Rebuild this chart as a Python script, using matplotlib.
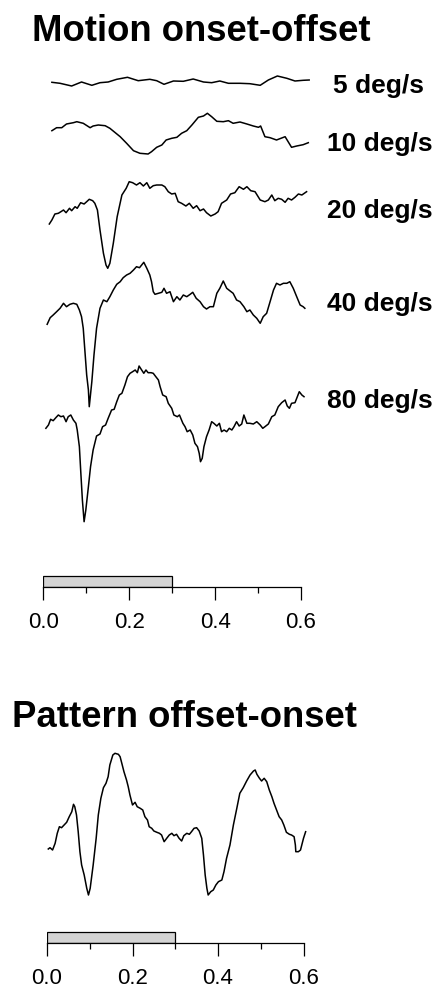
import matplotlib
matplotlib.use('Agg')
import matplotlib.pyplot as plt
import numpy as np

plt.rcParams['font.family'] = ['Liberation Sans', 'DejaVu Sans']

# stimulus bar (s) and time ticks
stim_on, stim_off = 0.0, 0.3
major_ticks = [0.0, 0.2, 0.4, 0.6]
minor_ticks = [0.1, 0.3, 0.5]
tick_labels = ['0.0', '0.2', '0.4', '0.6']

speed_labels = ['5 deg/s', '10 deg/s', '20 deg/s', '40 deg/s', '80 deg/s']

# motion onset-offset traces: time (s), amplitude (arbitrary units, up = positive)
t_5 = [0.020, 0.039, 0.066, 0.089, 0.113, 0.132, 0.151, 0.171, 0.196, 0.221, 0.248, 0.264, 0.281,
       0.303, 0.326, 0.349, 0.373, 0.392, 0.411, 0.431, 0.458, 0.481, 0.505, 0.524, 0.545, 0.567,
       0.586, 0.605, 0.619]
a_5 = [-0.3, -1.3, -4.0, 0.0, -3.3, -0.7, 0.0, 2.7, 4.7, 1.3, 2.7, 1.3, -2.3,
       1.0, 0.7, 3.0, 0.0, -0.7, 1.0, -1.3, -1.3, -1.7, -3.3, 2.0, 6.0, 3.7,
       1.0, 1.7, 2.0]

t_10 = [0.020, 0.031, 0.043, 0.054, 0.070, 0.078, 0.093, 0.109, 0.116, 0.128,
        0.144, 0.155, 0.179, 0.194, 0.210, 0.225, 0.244, 0.252, 0.264, 0.276,
        0.286, 0.299, 0.311, 0.322, 0.334, 0.346, 0.361, 0.373, 0.382, 0.392,
        0.404, 0.419, 0.431, 0.442, 0.458, 0.474, 0.489, 0.501, 0.506, 0.516,
        0.528, 0.543, 0.563, 0.578, 0.590, 0.605, 0.617]
a_10 = [-0.7, 2.3, 2.3, 6.0, 7.3, 8.3, 6.7, 2.3, 4.0, 5.0,
        4.3, 1.7, -6.7, -13.3, -20.7, -23.3, -24.0, -21.7, -17.3, -15.0,
        -10.0, -8.3, -7.3, -3.3, -0.7, 5.0, 12.7, 14.0, 16.7, 13.3,
        8.7, 8.3, 9.3, 6.7, 8.0, 6.0, 4.0, 2.7, 4.0, -6.7,
        -7.7, -10.0, -6.7, -17.3, -16.0, -14.7, -12.7]

t_20 = [0.014, 0.020, 0.027, 0.035, 0.041, 0.047, 0.053, 0.061, 0.066, 0.074,
        0.079, 0.087, 0.095, 0.101, 0.107, 0.115, 0.120, 0.126, 0.132, 0.140,
        0.146, 0.150, 0.155, 0.163, 0.172, 0.183, 0.193, 0.200, 0.208, 0.217,
        0.225, 0.233, 0.241, 0.248, 0.256, 0.264, 0.276, 0.283, 0.291, 0.299,
        0.307, 0.314, 0.322, 0.332, 0.340, 0.349, 0.357, 0.365, 0.373, 0.380,
        0.390, 0.400, 0.407, 0.415, 0.427, 0.436, 0.446, 0.456, 0.466, 0.474,
        0.483, 0.493, 0.505, 0.516, 0.524, 0.532, 0.539, 0.547, 0.555, 0.563,
        0.570, 0.578, 0.586, 0.594, 0.602, 0.613]
a_20 = [-2, 2, 8, 8.7, 10.3, 12, 9.3, 13.7, 11.3, 15.3,
        13.7, 19.3, 18, 20.3, 22.7, 21.3, 18.7, 12, -8, -31.3,
        -43, -46.3, -41.3, -21.3, 5.3, 27, 33.7, 40.3, 39.3, 37,
        39.3, 36, 39.3, 33.7, 36.3, 37, 37, 35.3, 30.3, 28,
        28.7, 20.3, 18.7, 16, 18.7, 13.7, 16.3, 11.3, 13, 9.3,
        6, 8, 10.3, 18.7, 22, 28, 29.3, 35.3, 32.7, 35.3,
        31.3, 30.3, 22, 20.3, 22, 27, 21.3, 23.7, 22.7, 19.7,
        23.7, 22, 24.7, 28, 27, 30.3]

t_40 = [0.009, 0.016, 0.023, 0.031, 0.039, 0.047, 0.054, 0.062, 0.070, 0.078,
        0.084, 0.089, 0.093, 0.097, 0.101, 0.105, 0.107, 0.113, 0.118, 0.124,
        0.132, 0.140, 0.148, 0.155, 0.163, 0.171, 0.179, 0.186, 0.194, 0.202,
        0.210, 0.217, 0.224, 0.229, 0.234, 0.241, 0.248, 0.252, 0.256, 0.260,
        0.268, 0.276, 0.281, 0.287, 0.295, 0.303, 0.311, 0.318, 0.326, 0.334,
        0.342, 0.348, 0.356, 0.365, 0.373, 0.380, 0.388, 0.396, 0.404, 0.411,
        0.419, 0.427, 0.435, 0.442, 0.450, 0.458, 0.467, 0.474, 0.481, 0.489,
        0.497, 0.505, 0.512, 0.520, 0.528, 0.536, 0.543, 0.551, 0.559, 0.567,
        0.574, 0.582, 0.590, 0.598, 0.605, 0.609]
a_40 = [-2.3, 4.3, 7, 10.3, 13.7, 18.7, 15.3, 17.7, 18.7, 17.7,
        12, 5.3, -6.3, -29.7, -53, -68, -84.7, -59.7, -33, -6.3,
        13.7, 22, 20.3, 25.3, 32, 37.7, 40.3, 44.3, 47, 48.7,
        52, 55.3, 54.3, 57, 59.7, 53.7, 47, 40.3, 30.3, 27.7,
        28.7, 29.7, 33.7, 28.7, 30.3, 20.3, 25.3, 22, 27, 25.3,
        27.7, 29.7, 23.7, 20.3, 15.3, 13, 15.3, 15.3, 28.7, 33.7,
        41, 33.7, 31, 28.7, 22, 20.3, 15.3, 10.3, 12, 7,
        3.7, -1.3, 5.3, 8.7, 20.3, 32, 38.7, 37, 38.7, 38.7,
        40.3, 33.7, 25.3, 17, 15.3, 13.7]

t_80 = [0.006, 0.012, 0.017, 0.023, 0.030, 0.035, 0.041, 0.047, 0.053, 0.058,
        0.064, 0.070, 0.076, 0.079, 0.084, 0.087, 0.091, 0.095, 0.099, 0.105,
        0.110, 0.116, 0.124, 0.132, 0.138, 0.145, 0.151, 0.159, 0.165, 0.171,
        0.177, 0.183, 0.190, 0.196, 0.202, 0.208, 0.214, 0.219, 0.223, 0.229,
        0.234, 0.239, 0.244, 0.251, 0.256, 0.262, 0.268, 0.272, 0.278, 0.286,
        0.291, 0.299, 0.304, 0.312, 0.317, 0.325, 0.330, 0.335, 0.342, 0.348,
        0.353, 0.359, 0.363, 0.366, 0.370, 0.374, 0.380, 0.386, 0.392, 0.397,
        0.404, 0.410, 0.415, 0.421, 0.427, 0.433, 0.439, 0.444, 0.450, 0.456,
        0.462, 0.467, 0.474, 0.481, 0.489, 0.497, 0.505, 0.511, 0.516, 0.524,
        0.532, 0.539, 0.547, 0.555, 0.563, 0.568, 0.573, 0.578, 0.586, 0.590,
        0.596, 0.602, 0.607]
a_80 = [-3.3, 0, 5.7, 4.3, 7.7, 10, 8.3, 9, 3.3, 8.3,
        10, 5, 1.7, -5, -21.7, -45, -75, -96.7, -85, -61.7,
        -41.7, -25, -11, -9, -1.7, 0, 6.7, 15, 15.7, 23.3,
        30, 31.7, 40, 48.3, 51.7, 53.3, 55, 52.3, 59, 55,
        51.7, 55, 52.3, 52.3, 51.7, 48.3, 45, 38.3, 30, 28.3,
        21.7, 16.7, 10, 8.3, 10, 1.7, -1.7, -6.7, -5, -10,
        -18.3, -21.7, -28.3, -36.7, -33.3, -21.7, -11.7, -5, 3.3, 1.7,
        -1, 1.7, -6.7, -5, -6.7, -3.3, -5, -1.7, 3.3, -1,
        1, 10, 1.7, 1.7, 1, 3.3, 0, -3.3, -1.7, 1,
        8.3, 10, 18.3, 22.3, 25, 19, 16.7, 21.7, 22.3, 26.7,
        33.3, 30, 28.3]

# pattern offset-onset trace
t_pat = [0.003, 0.007, 0.013, 0.019, 0.024, 0.029, 0.034, 0.040, 0.046, 0.052,
         0.058, 0.062, 0.065, 0.069, 0.073, 0.077, 0.081, 0.087, 0.093, 0.097,
         0.101, 0.108, 0.115, 0.120, 0.126, 0.132, 0.138, 0.143, 0.147, 0.154,
         0.159, 0.167, 0.171, 0.175, 0.180, 0.186, 0.190, 0.194, 0.200, 0.206,
         0.211, 0.218, 0.224, 0.229, 0.235, 0.239, 0.245, 0.250, 0.257, 0.263,
         0.268, 0.274, 0.280, 0.286, 0.292, 0.297, 0.303, 0.309, 0.315, 0.320,
         0.327, 0.333, 0.338, 0.344, 0.350, 0.356, 0.362, 0.366, 0.370, 0.374,
         0.377, 0.383, 0.389, 0.395, 0.401, 0.409, 0.414, 0.420, 0.428, 0.436,
         0.444, 0.451, 0.459, 0.467, 0.475, 0.483, 0.487, 0.491, 0.497, 0.502,
         0.508, 0.514, 0.520, 0.526, 0.531, 0.537, 0.543, 0.549, 0.554, 0.560,
         0.567, 0.572, 0.578, 0.581, 0.582, 0.588, 0.593, 0.600, 0.605]
a_pat = [0, 1.3, -1, 5.7, 15.7, 22.3, 21.3, 24, 26.7, 32.3,
         37.3, 44.7, 42.3, 34, 17.3, -2.7, -16, -26, -39.3, -46,
         -39.3, -16, 10.7, 34, 50.7, 61.3, 65.7, 72.3, 84, 94,
         95.7, 94.7, 92.3, 85.7, 77.3, 69, 62.3, 54, 44, 46.7,
         42.3, 40.7, 39, 32.3, 29, 22.3, 20.7, 18, 16.7, 15.7,
         14, 7.3, 10.7, 14, 15.7, 13.3, 14.7, 10.7, 8, 13.3,
         15.7, 14.7, 17.3, 20.7, 21.3, 18, 10.7, -6, -26, -39.3,
         -46, -42.7, -41, -36, -32.7, -31, -22.7, -9.3, 4, 24,
         40.7, 55.7, 61.3, 68, 74, 78, 79, 74.7, 70.7, 68,
         70.7, 67.3, 59, 52.3, 45.7, 39, 32.3, 29, 24, 16.7,
         14.7, 14, 12.3, 4, -2.7, -2.7, -1, 10.7, 17.3]

motion_t = [t_5, t_10, t_20, t_40, t_80]
motion_a = [a_5, a_10, a_20, a_40, a_80]

# layout
W, H = 434, 989
trace_offsets = [505, 457, 365, 265, 162]
label_x = [0.675, 0.661, 0.661, 0.661, 0.661]
label_y = [501, 443, 376, 283, 186]
bar_h = 11


def style_axis(ax):
    for s in ['top', 'right', 'left']:
        ax.spines[s].set_visible(False)
    ax.spines['bottom'].set_bounds(0, 0.6)
    ax.spines['bottom'].set_linewidth(0.9)
    ax.set_yticks([])
    ax.set_xticks(major_ticks)
    ax.set_xticklabels(tick_labels, fontsize=16)
    ax.set_xticks(minor_ticks, minor=True)
    ax.tick_params(axis='x', which='major', direction='out', length=9, width=0.9, pad=9)
    ax.tick_params(axis='x', which='minor', direction='out', length=4.5, width=0.9)
    ax.bar(stim_on, bar_h, width=stim_off - stim_on, align='edge',
           color='#d4d4d4', edgecolor='k', linewidth=0.9)
    ax.set_xlim(0, 0.64)


fig = plt.figure(figsize=(W / 100, H / 100), dpi=100, facecolor='w')

# top panel
ax1 = fig.add_axes([43.3 / W, 1 - 587 / H, 0.64 * 429.5 / W, (587 - 50) / H])
ax1.set_ylim(0, 537)
style_axis(ax1)
for i in range(len(speed_labels)):
    ax1.plot(motion_t[i], np.array(motion_a[i]) + trace_offsets[i], 'k-', lw=1.1, clip_on=False)
    ax1.text(label_x[i], label_y[i], speed_labels[i], fontsize=19, fontweight='bold',
             ha='left', va='center', clip_on=False)

# bottom panel
ax2 = fig.add_axes([47 / W, 1 - 943 / H, 0.64 * 427.5 / W, (943 - 740) / H])
ax2.set_ylim(0, 203)
style_axis(ax2)
ax2.plot(t_pat, np.array(a_pat) + 94, 'k-', lw=1.1, clip_on=False)

fig.text(32 / W, 1 - 41 / H, 'Motion onset-offset', fontsize=26.3, fontweight='bold', va='baseline')
fig.text(12 / W, 1 - 727 / H, 'Pattern offset-onset', fontsize=26.3, fontweight='bold', va='baseline')

fig.savefig('out.png', dpi=100)
